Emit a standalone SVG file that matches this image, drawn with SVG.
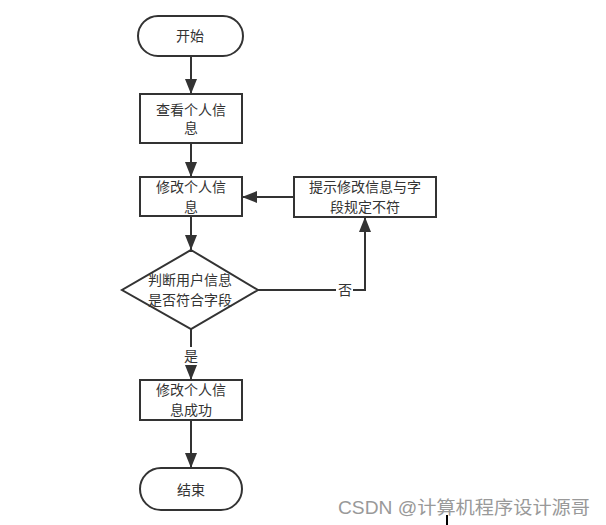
<svg xmlns="http://www.w3.org/2000/svg" width="606" height="525" viewBox="0 0 606 525">
<style>
.n{fill:#fff;stroke:#333;stroke-width:2}
.t{font-family:"Liberation Serif","Noto Sans CJK SC",serif;font-size:14px;fill:#333;text-anchor:middle;dominant-baseline:central}
.c{fill:none;stroke:#333;stroke-width:2}
.wm{font-family:"Liberation Sans","Noto Sans CJK SC",sans-serif;font-size:18px;fill:#999}
</style>
<defs>
<marker id="ah" viewBox="0 0 15 12" refX="15" refY="6" markerWidth="15" markerHeight="12" markerUnits="userSpaceOnUse" orient="auto">
<path d="M0,0 L15,6 L0,12 Z" fill="#333"/>
</marker>
</defs>
<rect width="606" height="525" fill="#fff"/>
<g id="connectors">
<line class="c" x1="191" y1="56" x2="191" y2="94" marker-end="url(#ah)"/>
<line class="c" x1="191" y1="143" x2="191" y2="177" marker-end="url(#ah)"/>
<line class="c" x1="191" y1="216" x2="191" y2="250" marker-end="url(#ah)"/>
<line class="c" x1="294" y1="197" x2="242" y2="197" marker-end="url(#ah)"/>
<polyline class="c" points="258,290 365,290 365,217" marker-end="url(#ah)"/>
<line class="c" x1="191" y1="329" x2="191" y2="380" marker-end="url(#ah)"/>
<line class="c" x1="191" y1="420" x2="191" y2="468" marker-end="url(#ah)"/>
<rect x="336" y="282" width="17" height="17" fill="#fff"/>
<text class="t" x="345" y="290">否</text>
<rect x="183" y="347" width="16" height="18" fill="#fff"/>
<text class="t" x="191" y="356">是</text>
</g>
<g id="start">
<rect class="n" x="138" y="16" width="105" height="40" rx="20"/>
<text class="t" x="190" y="36">开始</text>
</g>
<g id="view">
<rect class="n" x="140" y="94" width="102" height="49"/>
<text class="t" x="191" y="110">查看个人信</text>
<text class="t" x="191" y="128">息</text>
</g>
<g id="modify">
<rect class="n" x="140" y="177" width="102" height="39"/>
<text class="t" x="191" y="187">修改个人信</text>
<text class="t" x="191" y="207">息</text>
</g>
<g id="hint">
<rect class="n" x="294" y="177" width="142" height="40"/>
<text class="t" x="365" y="187">提示修改信息与字</text>
<text class="t" x="365" y="207">段规定不符</text>
</g>
<g id="decide">
<polygon class="n" points="191,250 258,290 191,329 122,290"/>
<text class="t" x="190" y="280">判断用户信息</text>
<text class="t" x="190" y="300">是否符合字段</text>
</g>
<g id="success">
<rect class="n" x="140" y="380" width="102" height="40"/>
<text class="t" x="191" y="390">修改个人信</text>
<text class="t" x="191" y="410">息成功</text>
</g>
<g id="end">
<rect class="n" x="140" y="468" width="102" height="42" rx="21"/>
<text class="t" x="191" y="490">结束</text>
</g>
<text class="wm" x="338" y="514" textLength="252" lengthAdjust="spacingAndGlyphs">CSDN @计算机程序设计源哥</text>
<rect x="446" y="515" width="2" height="10" fill="#000"/>
</svg>
